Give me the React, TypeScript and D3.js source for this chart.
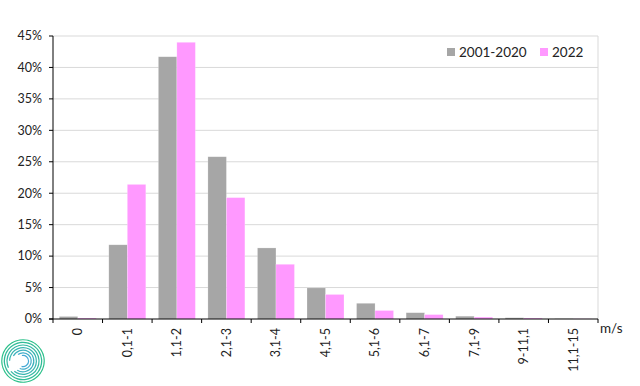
import React from 'react';
import * as d3 from 'd3';

// wind speed classes (m/s)
const categories = ['0', '0,1-1', '1,1-2', '2,1-3', '3,1-4', '4,1-5', '5,1-6', '6,1-7', '7,1-9', '9-11,1', '11,1-15'];
const seriesNames = ['2001-2020', '2022'];
const values2001_2020 = [0.4, 11.8, 41.7, 25.8, 11.3, 4.95, 2.5, 1.0, 0.45, 0.2, 0.05];
const values2022 = [0.15, 21.4, 44.0, 19.3, 8.7, 3.9, 1.35, 0.7, 0.3, 0.15, 0.03];
const yTicks = [0, 5, 10, 15, 20, 25, 30, 35, 40, 45];
const colors = ['#a6a6a6', '#ff99ff'];

const width = 640;
const height = 386;
const plot = { left: 53, right: 598, top: 36, bottom: 319 };
const font = 'Lato, "Open Sans", sans-serif';

const App = () => {
  const x = d3.scaleBand<string>()
    .domain(categories)
    .range([plot.left, plot.right])
    .paddingInner(0)
    .paddingOuter(0);

  const xs = d3.scaleBand<string>()
    .domain(seriesNames)
    .range([0, x.bandwidth()])
    .paddingInner(0)
    .paddingOuter(0.34);

  const y = d3.scaleLinear().domain([0, 45]).range([plot.bottom, plot.top]);

  const series = [values2001_2020, values2022];

  // small spiral logo in the corner
  const arc = d3.arc();
  const logoRings = d3.range(7).map(i => ({
    r: 5 + i * 2.6,
    start: -0.2 - i * 0.45,
    end: 3.4 + i * 0.15,
  }));
  const ringColor = d3.scaleLinear<string>().domain([0, 6]).range(['#46a9d6', '#2cc08a']);

  return (
    <div style={{ position: 'fixed', left: 0, top: 0 }}>
      <svg width={width} height={height} style={{ display: 'block', background: '#fff' }}>
        {/* gridlines */}
        {yTicks.slice(1).map(t => (
          <line key={t} x1={plot.left} x2={plot.right} y1={y(t)} y2={y(t)} stroke="#d9d9d9" strokeWidth={1} />
        ))}
        <line x1={plot.right} x2={plot.right} y1={plot.top} y2={plot.bottom} stroke="#d9d9d9" strokeWidth={1} />

        {/* bars */}
        {series.map((vals, si) =>
          categories.map((c, ci) => (
            <rect
              key={`${si}-${c}`}
              x={(x(c) ?? 0) + (xs(seriesNames[si]) ?? 0)}
              y={y(vals[ci])}
              width={xs.bandwidth()}
              height={plot.bottom - y(vals[ci])}
              fill={colors[si]}
              stroke="#ffffff"
              strokeOpacity={0.35}
              strokeWidth={0.6}
            />
          ))
        )}

        {/* y axis */}
        <line x1={plot.left} x2={plot.left} y1={plot.top} y2={plot.bottom} stroke="#000" strokeWidth={1} />
        {yTicks.map(t => (
          <g key={t}>
            <line x1={plot.left - 4} x2={plot.left} y1={y(t)} y2={y(t)} stroke="#000" />
            <text
              x={plot.left - 11}
              y={y(t)}
              dy="0.35em"
              textAnchor="end"
              fontFamily={font}
              fontSize={12.5}
              fill="#222"
            >
              {t}%
            </text>
          </g>
        ))}

        {/* x axis */}
        <line x1={plot.left - 4} x2={plot.right} y1={plot.bottom} y2={plot.bottom} stroke="#000" strokeWidth={1} />
        {categories.concat(['end']).map((c, i) => {
          const xp = plot.left + i * x.step();
          return <line key={`t${i}`} x1={xp} x2={xp} y1={plot.bottom} y2={plot.bottom + 4} stroke="#000" />;
        })}
        {categories.map(c => {
          const cx = (x(c) ?? 0) + x.bandwidth() / 2;
          return (
            <text
              key={c}
              transform={`translate(${cx},${plot.bottom + 9}) rotate(-90)`}
              textAnchor="end"
              dy="0.35em"
              fontFamily={font}
              fontSize={12.5}
              fill="#222"
            >
              {c}
            </text>
          );
        })}
        <text x={plot.right + 2} y={plot.bottom + 9} dy="0.35em" fontFamily={font} fontSize={13.5} fill="#222">
          m/s
        </text>

        {/* legend */}
        {seriesNames.map((s, i) => {
          const lx = i === 0 ? 447 : 540;
          return (
            <g key={s}>
              <rect x={lx} y={48} width={8} height={8} fill={colors[i]} />
              <text x={lx + 12} y={52} dy="0.35em" fontFamily={font} fontSize={13.5} fill="#222">
                {s}
              </text>
            </g>
          );
        })}

        {/* logo */}
        <g transform="translate(23,361)">
          {logoRings.map((r, i) => (
            <path
              key={i}
              d={arc({ innerRadius: r.r, outerRadius: r.r + 1.2, startAngle: r.start, endAngle: r.end }) ?? ''}
              fill={ringColor(i)}
            />
          ))}
        </g>
      </svg>
    </div>
  );
};

export default App;
